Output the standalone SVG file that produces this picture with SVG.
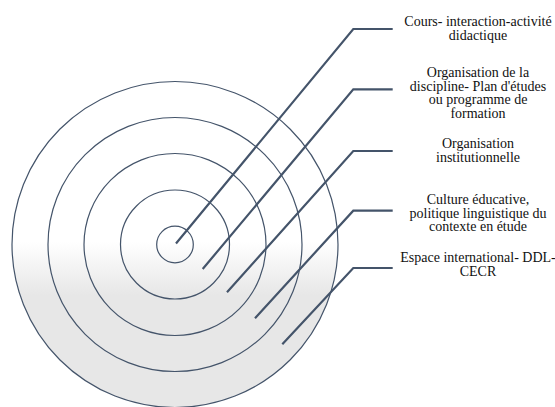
<svg xmlns="http://www.w3.org/2000/svg" width="555" height="407" viewBox="0 0 555 407">
<defs>
<linearGradient id="fillGrad" gradientUnits="userSpaceOnUse" x1="0" y1="242" x2="0" y2="295">
<stop offset="0" stop-color="#ffffff"/>
<stop offset="1" stop-color="#e7e7e7"/>
</linearGradient>
<style>
.ring{fill:url(#fillGrad);stroke:#44546a;stroke-width:1.2}
.conn{fill:none;stroke:#44546a;stroke-width:2.2;stroke-linejoin:miter}
.lbl{font-family:"Liberation Serif","DejaVu Serif",serif;font-size:14px;fill:#111111;text-anchor:middle}
</style>
</defs>
<g id="rings">
<g id="ring5"><circle class="ring" cx="175" cy="244.5" r="163"/></g>
<g id="ring4"><circle class="ring" cx="175" cy="244.5" r="127"/></g>
<g id="ring3"><circle class="ring" cx="175" cy="244.5" r="91"/></g>
<g id="ring2"><circle class="ring" cx="175" cy="244.5" r="54.5"/></g>
<g id="ring1"><circle class="ring" cx="175" cy="244.5" r="18.3"/></g>
</g>
<g id="connectors">
<polyline class="conn" points="176,243.5 353.3,29 392.7,29"/>
<polyline class="conn" points="202.7,269 353.3,89.3 392.7,89.3"/>
<polyline class="conn" points="227,292.3 353.3,151 392.7,151"/>
<polyline class="conn" points="255,318.3 353.3,210.7 392.7,210.7"/>
<polyline class="conn" points="282.3,344.3 353.3,268 392.7,268"/>
</g>
<g id="label1"><text class="lbl" x="478" y="26">Cours- interaction-activité</text><text class="lbl" x="478" y="40">didactique</text></g>
<g id="label2"><text class="lbl" x="478" y="77">Organisation de la</text><text class="lbl" x="478" y="90.5">discipline- Plan d'études</text><text class="lbl" x="478" y="104">ou programme de</text><text class="lbl" x="478" y="117.5">formation</text></g>
<g id="label3"><text class="lbl" x="478" y="148">Organisation</text><text class="lbl" x="478" y="162">institutionnelle</text></g>
<g id="label4"><text class="lbl" x="478" y="204">Culture éducative,</text><text class="lbl" x="478" y="217.5">politique linguistique du</text><text class="lbl" x="478" y="231">contexte en étude</text></g>
<g id="label5"><text class="lbl" x="478" y="262">Espace international- DDL-</text><text class="lbl" x="478" y="276">CECR</text></g>
</svg>
